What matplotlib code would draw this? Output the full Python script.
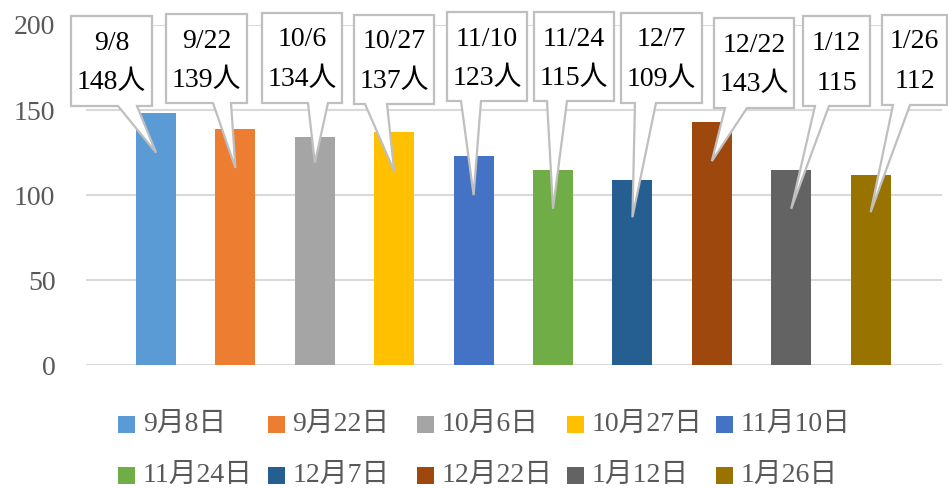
import matplotlib
matplotlib.use("Agg")
import matplotlib.pyplot as plt
from matplotlib.patches import Polygon, Rectangle
from matplotlib.transforms import IdentityTransform

# ---- data ----
months = [9, 9, 10, 10, 11, 11, 12, 12, 1, 1]
days = [8, 22, 6, 27, 10, 24, 7, 22, 12, 26]
values = [148, 139, 134, 137, 123, 115, 109, 143, 115, 112]
units = ["人", "人", "人", "人", "人", "人", "人", "人", "", ""]
legend_labels = [f"{m}月{d}日" for m, d in zip(months, days)]
callout_dates = [f"{m}/{d}" for m, d in zip(months, days)]
yticks = [0, 50, 100, 150, 200]

colors = ["#5B9BD5", "#ED7D31", "#A5A5A5", "#FFC000", "#4472C4",
          "#70AD47", "#255E91", "#9E480E", "#636363", "#997300"]

# ---- layout (pixels, top-origin) ----
W, H = 948, 488
FONT = ["Liberation Serif", "Noto Sans CJK JP"]
FS = 20
# callout boxes: left, right, top, bottom, pointer-base-left, pointer-base-right
boxes = [(71, 152, 16, 106, 118, 137), (166, 247, 14, 103, 213, 231),
         (262, 342, 13, 103, 308, 328), (354, 434, 15, 104, 365, 387),
         (447, 527, 12, 101, 461, 481), (534, 614, 12, 101, 547, 567),
         (621, 702, 13, 103, 635, 656), (714, 794, 18, 108, 725, 747),
         (803, 870, 16, 106, 815, 829), (882, 947, 15, 105, 893, 910)]
pointer_depth = [23, 23, 15, 23, 23, 23, 22, 23, 23, 22]

fig = plt.figure(figsize=(W / 100, H / 100), dpi=100)
ax_left, ax_right, ax_top, ax_bottom = 86, 942, 25, 365.3
ax = fig.add_axes([ax_left / W, 1 - ax_bottom / H,
                   (ax_right - ax_left) / W, (ax_bottom - ax_top) / H])

x = list(range(len(values)))
ax.bar(x, values, width=0.504, color=colors, zorder=2)
ax.set_xlim(-0.882, 9.899)
ax.set_ylim(0, 200)
ax.set_yticks(yticks)
ax.set_yticklabels([str(t) for t in yticks], family=FONT, fontsize=FS, color="#595959")
ax.tick_params(axis="y", length=0, pad=22)
ax.set_xticks([])
for s in ax.spines.values():
    s.set_visible(False)
ax.grid(axis="y", color="#D9D9D9", linewidth=1.5, zorder=0)
ax.set_axisbelow(True)

fig.canvas.draw()

# ---- callouts ----
for i, (L, R, T, B, bl, br) in enumerate(boxes):
    tx, ty = ax.transData.transform((x[i], values[i] - pointer_depth[i]))
    verts = [(L, H - T), (R, H - T), (R, H - B), (br, H - B), (tx, ty),
             (bl, H - B), (L, H - B)]
    poly = Polygon(verts, closed=True, facecolor="white", edgecolor="#BFBFBF",
                   linewidth=1.6, transform=IdentityTransform(), zorder=5)
    fig.add_artist(poly)
    cx = (L + R) / 2
    fig.text(cx / W, 1 - (T + 27) / H, callout_dates[i], family=FONT, fontsize=FS,
             ha="center", va="center", color="black", zorder=6)
    fig.text(cx / W, 1 - (T + 67) / H, f"{values[i]}{units[i]}", family=FONT,
             fontsize=FS, ha="center", va="center", color="black", zorder=6)

# ---- legend (Excel-style equal columns) ----
for k, lab in enumerate(legend_labels):
    row, col = divmod(k, 5)
    mx = 118 + 149.5 * col
    my = 424.5 + 51 * row
    fig.add_artist(Rectangle((mx, H - my - 8.5), 17, 17, facecolor=colors[k],
                             edgecolor="none", transform=IdentityTransform()))
    fig.text((mx + 25) / W, 1 - my / H, lab, family=FONT, fontsize=FS,
             ha="left", va="center", color="#595959")

fig.savefig("out.png", dpi=100)
